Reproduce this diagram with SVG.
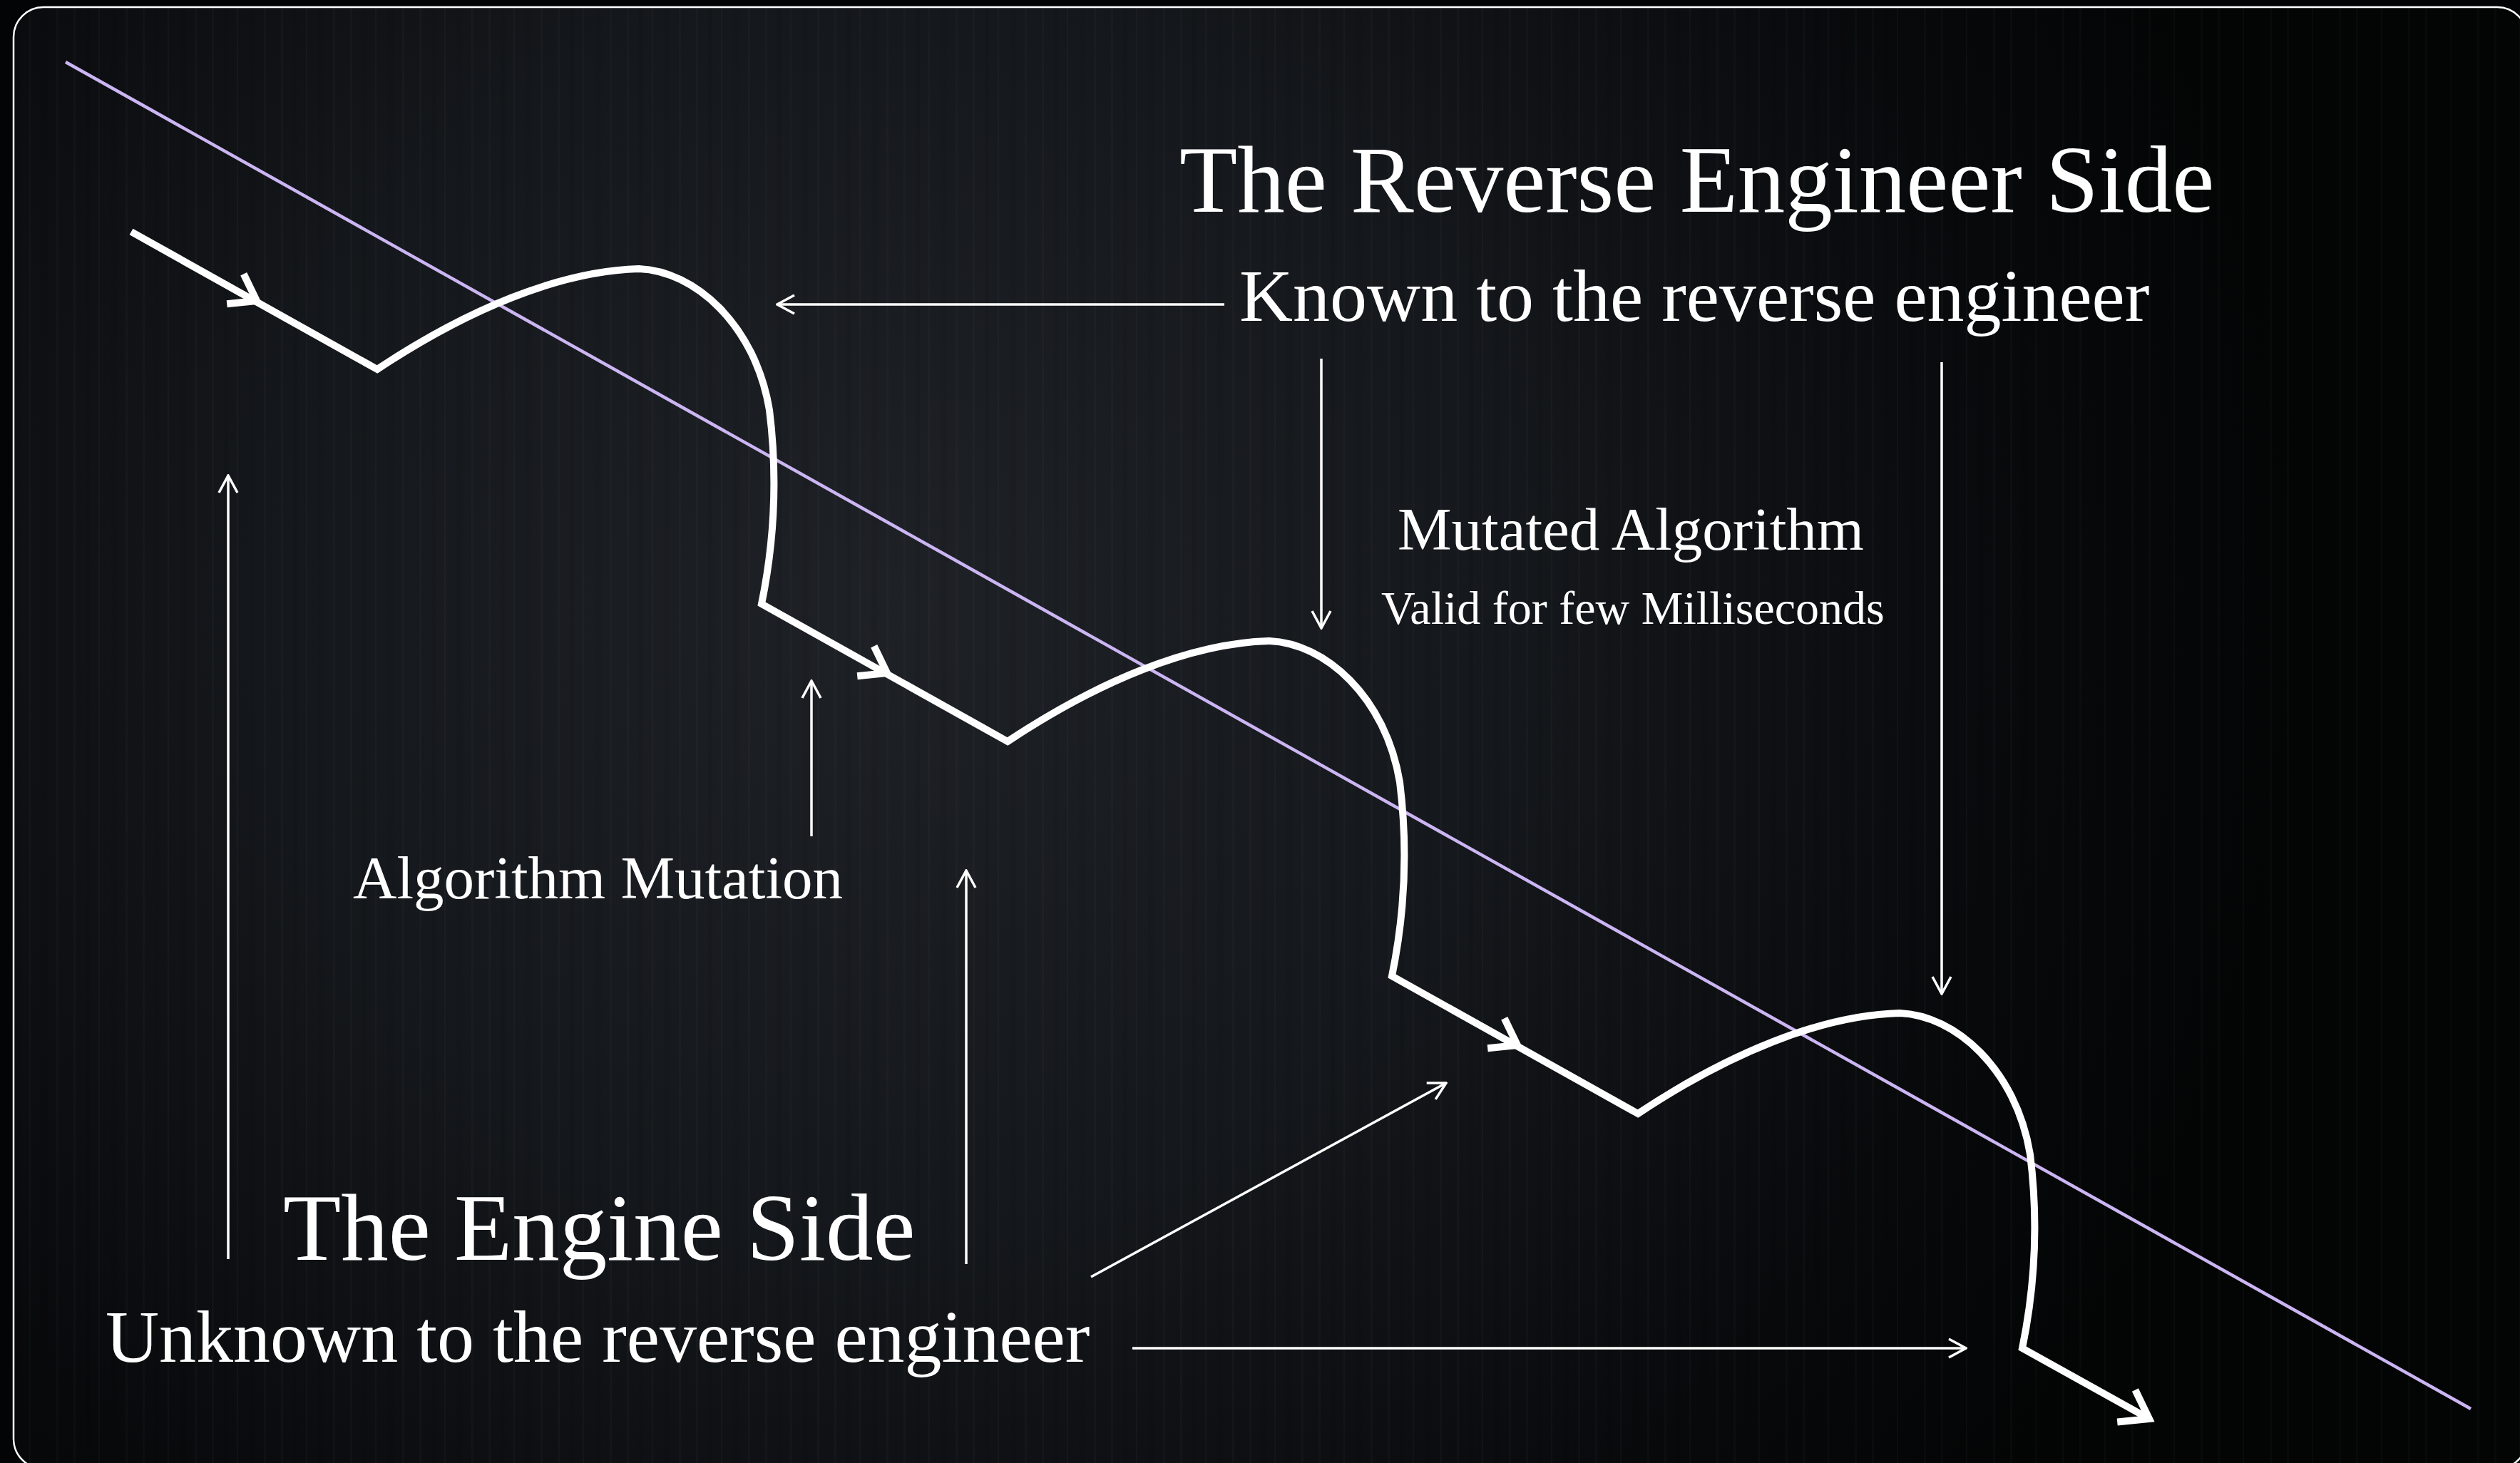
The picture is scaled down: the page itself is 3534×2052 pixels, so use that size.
<svg xmlns="http://www.w3.org/2000/svg" width="3534" height="2052" viewBox="0 0 3534 2052">
  <defs>
    <style>
      .t { fill: #ffffff; font-family: "Liberation Serif", "Times New Roman", serif; }
      .thin { fill: none; stroke: #ffffff; stroke-width: 3.5; marker-end: url(#open); }
      .flow { fill: none; stroke: #ffffff; stroke-width: 10; stroke-linejoin: miter; stroke-miterlimit: 10; }
      .chev { fill: none; stroke: #ffffff; stroke-width: 10; stroke-linejoin: miter; stroke-linecap: butt; }
    </style>
    <radialGradient id="bg" cx="1250" cy="850" r="2000" gradientUnits="userSpaceOnUse">
      <stop offset="0" stop-color="#1e2126"/>
      <stop offset="0.45" stop-color="#14171b"/>
      <stop offset="0.8" stop-color="#08090b"/>
      <stop offset="1" stop-color="#030404"/>
    </radialGradient>
    <pattern id="grain" x="0" y="0" width="97" height="2052" patternUnits="userSpaceOnUse">
      <rect x="6" y="0" width="3" height="2052" fill="#ffffff" opacity="0.018"/>
      <rect x="23" y="0" width="6" height="2052" fill="#000000" opacity="0.06"/>
      <rect x="41" y="0" width="2" height="2052" fill="#ffffff" opacity="0.025"/>
      <rect x="58" y="0" width="9" height="2052" fill="#000000" opacity="0.05"/>
      <rect x="79" y="0" width="3" height="2052" fill="#ffffff" opacity="0.02"/>
    </pattern>
    <marker id="open" viewBox="0 0 30 30" refX="28" refY="15" markerWidth="30" markerHeight="30" markerUnits="userSpaceOnUse" orient="auto">
      <path d="M4,2 L28,15 L4,28" fill="none" stroke="#ffffff" stroke-width="3.5"/>
    </marker>
  </defs>

  <rect x="0" y="0" width="3534" height="2052" fill="#030405"/>
  <rect x="19" y="10" width="3525" height="2050" rx="42" fill="url(#bg)"/>
  <rect x="19" y="10" width="3525" height="2050" rx="42" fill="url(#grain)"/>
  <rect x="19" y="10" width="3525" height="2050" rx="42" fill="none" stroke="#ffffff" stroke-width="2.5"/>

  <g id="divider">
    <line x1="92" y1="87" x2="3465" y2="1976" stroke="#cbb5f2" stroke-width="4.5"/>
  </g>

  <g id="flow">
    <path class="flow" d="M184,325 l345,193 c125,-83 255,-138 367,-141 c78,3 163,78 183,198 c10,80 10,170 -11,272 l345,193 c125,-83 255,-138 367,-141 c78,3 163,78 183,198 c10,80 10,170 -11,272 l345,193 c125,-83 255,-138 367,-141 c78,3 163,78 183,198 c10,80 10,170 -11,272 l178,99"/>
    <path class="chev" d="M341.7,384.2 l18.3,37.8 l-41.8,4.2"/>
    <path class="chev" d="M1225.7,906.2 l18.3,37.8 l-41.8,4.2"/>
    <path class="chev" d="M2109.7,1428.2 l18.3,37.8 l-41.8,4.2"/>
    <path class="chev" d="M2994.4,1949.5 l19.6,40.5 l-44.8,4.5"/>
  </g>

  <g id="connectors">
    <line class="thin" x1="1717" y1="427" x2="1090" y2="427"/>
    <line class="thin" x1="1853" y1="503" x2="1853" y2="881"/>
    <line class="thin" x1="2723" y1="508" x2="2723" y2="1394"/>
    <line class="thin" x1="320" y1="1766" x2="320" y2="667"/>
    <line class="thin" x1="1138" y1="1173" x2="1138" y2="955"/>
    <line class="thin" x1="1355" y1="1773" x2="1355" y2="1221"/>
    <line class="thin" x1="1530" y1="1791" x2="2028" y2="1519"/>
    <line class="thin" x1="1588" y1="1891" x2="2757" y2="1891"/>
  </g>

  <g id="reverse-engineer-side">
    <text class="t" x="1654" y="297" font-size="133">The Reverse Engineer Side</text>
  </g>
  <g id="known">
    <text class="t" x="1738" y="450" font-size="104">Known to the reverse engineer</text>
  </g>
  <g id="mutated-algorithm">
    <text class="t" x="1960" y="771" font-size="85">Mutated Algorithm</text>
    <text class="t" x="1937" y="875" font-size="66">Valid for few Milliseconds</text>
  </g>
  <g id="algorithm-mutation">
    <text class="t" x="495" y="1260" font-size="85">Algorithm Mutation</text>
  </g>
  <g id="engine-side">
    <text class="t" x="397" y="1767" font-size="133">The Engine Side</text>
  </g>
  <g id="unknown">
    <text class="t" x="148" y="1910" font-size="104">Unknown to the reverse engineer</text>
  </g>
</svg>
